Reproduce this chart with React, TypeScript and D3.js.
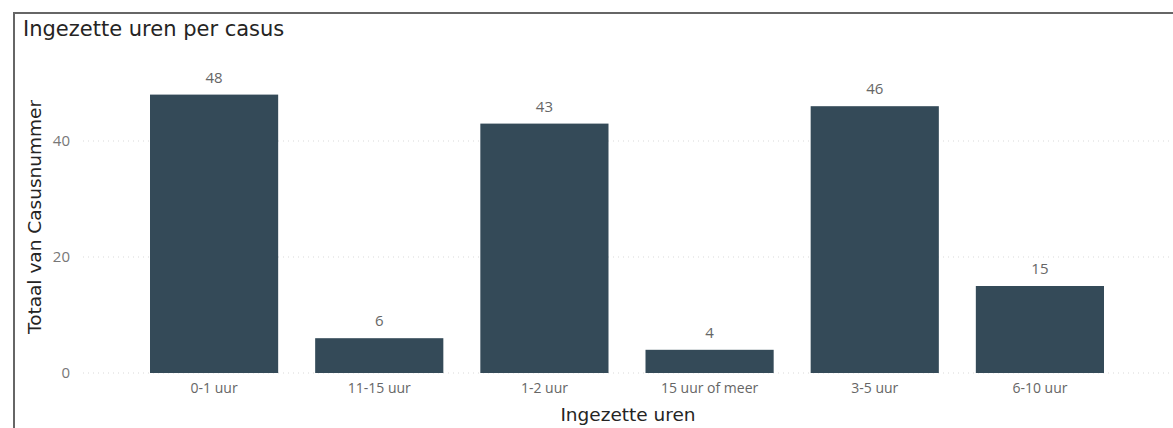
import React, { useEffect, useRef } from 'react';
import * as d3 from 'd3';

const categories = ['0-1 uur', '11-15 uur', '1-2 uur', '15 uur of meer', '3-5 uur', '6-10 uur'];
const values = [48, 6, 43, 4, 46, 15];
const yTicks = [0, 20, 40];

const W = 1173;
const H = 428;

const App = () => {
  const ref = useRef<SVGSVGElement>(null);

  useEffect(() => {
    const svg = d3.select(ref.current);
    svg.selectAll('*').remove();

    const titleFont = '"DejaVu Sans", sans-serif';
    const labelFont = '"Open Sans", "Noto Sans", sans-serif';

    // frame
    svg.append('rect')
      .attr('x', 14).attr('y', 13)
      .attr('width', W).attr('height', H)
      .attr('fill', 'white')
      .attr('stroke', '#666').attr('stroke-width', 2);

    svg.append('text')
      .attr('x', 23).attr('y', 36)
      .attr('font-family', titleFont)
      .attr('font-size', 21)
      .attr('fill', '#252423')
      .text('Ingezette uren per casus');

    const x = d3.scaleBand<string>()
      .domain(categories)
      .range([131.5, 1122.5])
      .paddingInner(0.224)
      .paddingOuter(0.112);

    const y = d3.scaleLinear().domain([0, 50]).range([373, 83]);

    // gridlines
    svg.append('g')
      .selectAll('line')
      .data(yTicks)
      .join('line')
      .attr('x1', 83).attr('x2', W)
      .attr('y1', (d) => y(d)).attr('y2', (d) => y(d))
      .attr('stroke', '#d9d9d9')
      .attr('stroke-width', 1)
      .attr('stroke-dasharray', '1,4');

    // y axis labels
    const yAxis = svg.append('g')
      .attr('transform', 'translate(70,0)')
      .call(d3.axisLeft(y).tickValues(yTicks).tickSize(0).tickPadding(0));
    yAxis.select('.domain').remove();
    yAxis.selectAll('text')
      .attr('font-family', labelFont)
      .attr('font-size', 15)
      .attr('fill', '#777');

    // bars
    svg.append('g')
      .selectAll('rect')
      .data(values)
      .join('rect')
      .attr('x', (_, i) => x(categories[i]) as number)
      .attr('width', x.bandwidth())
      .attr('y', (d) => y(d))
      .attr('height', (d) => y(0) - y(d))
      .attr('fill', '#344a58');

    // data labels
    svg.append('g')
      .selectAll('text')
      .data(values)
      .join('text')
      .attr('x', (_, i) => (x(categories[i]) as number) + x.bandwidth() / 2)
      .attr('y', (d) => y(d) - 12)
      .attr('text-anchor', 'middle')
      .attr('font-family', labelFont)
      .attr('font-size', 15)
      .attr('fill', '#666')
      .text((d) => d);

    // x axis labels
    const xAxis = svg.append('g')
      .attr('transform', `translate(0,${y(0)})`)
      .call(d3.axisBottom(x).tickSize(0).tickPadding(10));
    xAxis.select('.domain').remove();
    xAxis.selectAll('text')
      .attr('font-family', labelFont)
      .attr('font-size', 14)
      .attr('fill', '#666');

    // axis titles
    svg.append('text')
      .attr('x', 628).attr('y', 421)
      .attr('text-anchor', 'middle')
      .attr('font-family', titleFont)
      .attr('font-size', 18.5)
      .attr('fill', '#252423')
      .text('Ingezette uren');

    svg.append('text')
      .attr('transform', 'translate(41,217) rotate(-90)')
      .attr('text-anchor', 'middle')
      .attr('font-family', titleFont)
      .attr('font-size', 18.5)
      .attr('fill', '#252423')
      .text('Totaal van Casusnummer');
  }, []);

  return (
    <svg ref={ref} width={W} height={H} style={{ position: 'absolute', left: 0, top: 0, display: 'block' }} />
  );
};

export default App;
